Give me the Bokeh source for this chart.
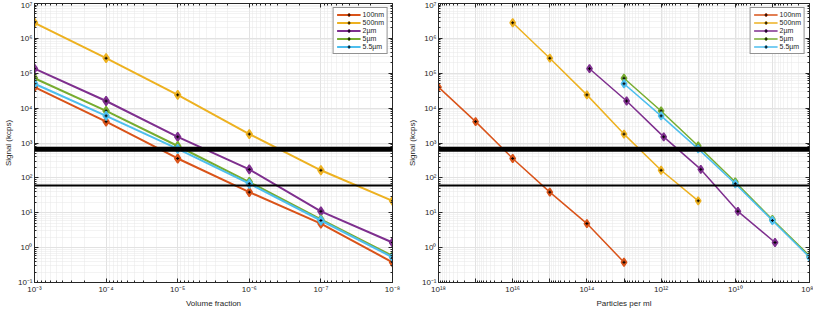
import numpy as np
from bokeh.plotting import figure
from bokeh.layouts import row
from bokeh.models import (FixedTicker, CustomJSTickFormatter, Span, Legend, LegendItem,
                          LogAxis, Range1d)
from bokeh.embed import file_html
from bokeh.resources import INLINE

# ---------------- data ----------------
series_labels = ["100nm", "500nm", "2\u00b5m", "5\u00b5m", "5.5\u00b5m"]
series_colors = ["#D95319", "#EDB120", "#7E2F8E", "#77AC30", "#4DBEEE"]

volume_fraction = [1e-3, 1e-4, 1e-5, 1e-6, 1e-7, 1e-8]

signal_100nm = [4.0e4, 4.1e3, 3.6e2, 39, 4.9, 0.38]
signal_500nm = [2.8e6, 2.7e5, 2.4e4, 1.8e3, 165, 22]
signal_2um = [1.35e5, 1.6e4, 1.5e3, 175, 11, 1.4]
signal_5um = [7.2e4, 8.3e3, 820, 76, 6.4, 0.58]
signal_5_5um = [5.0e4, 6.0e3, 680, 68, 6.0, 0.53]

particles_100nm = [1e18, 1e17, 1e16, 1e15, 1e14, 1e13]
particles_500nm = [1e16, 1e15, 1e14, 1e13, 1e12, 1e11]
particles_2um = [8.5e13, 8.5e12, 8.5e11, 8.5e10, 8.5e9, 8.5e8]
particles_5um = [1e13, 1e12, 1e11, 1e10, 1e9, 1e8]
particles_5_5um = [1e13, 1e12, 1e11, 1e10, 1e9, 1e8]

signals = [signal_100nm, signal_500nm, signal_2um, signal_5um, signal_5_5um]
particles = [particles_100nm, particles_500nm, particles_2um, particles_5um, particles_5_5um]

threshold_levels = [660, 60]
threshold_widths = [5, 2]

y_range = (1e-1, 1e7)
x1_range = (1e-3, 1e-8)
x2_range = (1e18, 1e8)

FONT = "Liberation Sans"
TXT = "#262626"

SUP_JS = """
const e = Math.round(Math.log10(tick));
const sup = {'-':'\u207b','0':'\u2070','1':'\u00b9','2':'\u00b2','3':'\u00b3','4':'\u2074','5':'\u2075','6':'\u2076','7':'\u2077','8':'\u2078','9':'\u2079'};
if (EVEN_ONLY && (e % 2 != 0)) { return ''; }
return '10' + String(e).split('').map(c => sup[c]).join('');
"""


def decade_ticks(lo_exp, hi_exp):
    major = [10.0 ** e for e in range(lo_exp, hi_exp + 1)]
    minor = [m * 10.0 ** e for e in range(lo_exp, hi_exp) for m in range(2, 10)]
    return major, minor


def style_axis(ax, even_only=False, show_labels=True):
    ax.axis_line_color = TXT
    ax.major_tick_line_color = TXT
    ax.minor_tick_line_color = TXT
    ax.major_tick_in = 4
    ax.major_tick_out = 0
    ax.minor_tick_in = 2
    ax.minor_tick_out = 0
    ax.major_label_text_font = FONT
    ax.major_label_text_color = TXT
    ax.major_label_text_font_size = "8px"
    ax.major_label_standoff = 2
    ax.axis_label_text_font = FONT
    ax.axis_label_text_font_style = "normal"
    ax.axis_label_text_font_size = "8px"
    ax.axis_label_text_color = TXT
    ax.axis_label_standoff = 2
    if show_labels:
        ax.formatter = CustomJSTickFormatter(code=SUP_JS.replace("EVEN_ONLY", "true" if even_only else "false"))
    else:
        ax.major_label_standoff = 0
        ax.formatter = CustomJSTickFormatter(code="return '';")


def make_fig(xvals_list, x_range, xlabel, xexp, even_only, lw, msize,
             border_left, frame_w, border_right):
    p = figure(x_axis_type="log", y_axis_type="log",
               x_range=Range1d(*x_range), y_range=Range1d(*y_range),
               frame_width=frame_w, frame_height=279,
               min_border_left=border_left, min_border_right=border_right,
               min_border_top=3, min_border_bottom=18,
               output_backend="svg", toolbar_location=None,
               background_fill_color="white", border_fill_color="white")
    p.outline_line_color = TXT
    p.outline_line_width = 1

    xmaj, xmin = decade_ticks(*xexp)
    ymaj, ymin = decade_ticks(-1, 7)

    p.xaxis.ticker = FixedTicker(ticks=xmaj, minor_ticks=xmin)
    p.yaxis.ticker = FixedTicker(ticks=ymaj, minor_ticks=ymin)
    style_axis(p.xaxis[0], even_only=even_only)
    style_axis(p.yaxis[0])
    p.xaxis.axis_label = xlabel
    p.yaxis.axis_label = "Signal (kcps)"

    # box ticks on top and right
    top = LogAxis(ticker=FixedTicker(ticks=xmaj, minor_ticks=xmin))
    style_axis(top, show_labels=False)
    right = LogAxis(ticker=FixedTicker(ticks=ymaj, minor_ticks=ymin))
    style_axis(right, show_labels=False)
    p.add_layout(top, "above")
    p.add_layout(right, "right")

    for g in (p.xgrid, p.ygrid):
        g.grid_line_color = "#e2e2e2"
        g.grid_line_width = 1
        g.minor_grid_line_color = "#e6e6e6"
        g.minor_grid_line_dash = "1 1"

    for lvl, w in zip(threshold_levels, threshold_widths):
        p.add_layout(Span(location=lvl, dimension="width", line_color="black", line_width=w))

    items = []
    for lab, col, xs, ys in zip(series_labels, series_colors, xvals_list, signals):
        r1 = p.line(xs, ys, line_color=col, line_width=lw)
        r2 = p.scatter(xs, ys, marker="diamond", size=msize, fill_color=col,
                       line_color=col, line_width=1.5)
        r3 = p.scatter(xs, ys, marker="cross", size=3, line_color="black", line_width=1)
        items.append(LegendItem(label=lab, renderers=[r1, r2, r3]))

    leg = Legend(items=items, location="top_right")
    leg.label_text_font = FONT
    leg.label_text_font_size = "7px"
    leg.label_text_color = TXT
    leg.glyph_width = 24
    leg.glyph_height = 7
    leg.label_height = 7
    leg.label_standoff = 2
    leg.spacing = 1
    leg.padding = 3
    leg.margin = 4
    leg.border_line_color = TXT
    leg.border_line_width = 1
    leg.background_fill_color = "white"
    leg.background_fill_alpha = 1
    p.add_layout(leg)
    return p


p1 = make_fig([volume_fraction] * 5, x1_range, "Volume fraction", (-8, -3), False, 2, 9,
              22, 358, 12)
p2 = make_fig(particles, x2_range, "Particles per ml", (8, 18), True, 1.5, 8,
              31, 371, 4)

layout = row(p1, p2)
open("out.html", "w").write(file_html(layout, INLINE))
